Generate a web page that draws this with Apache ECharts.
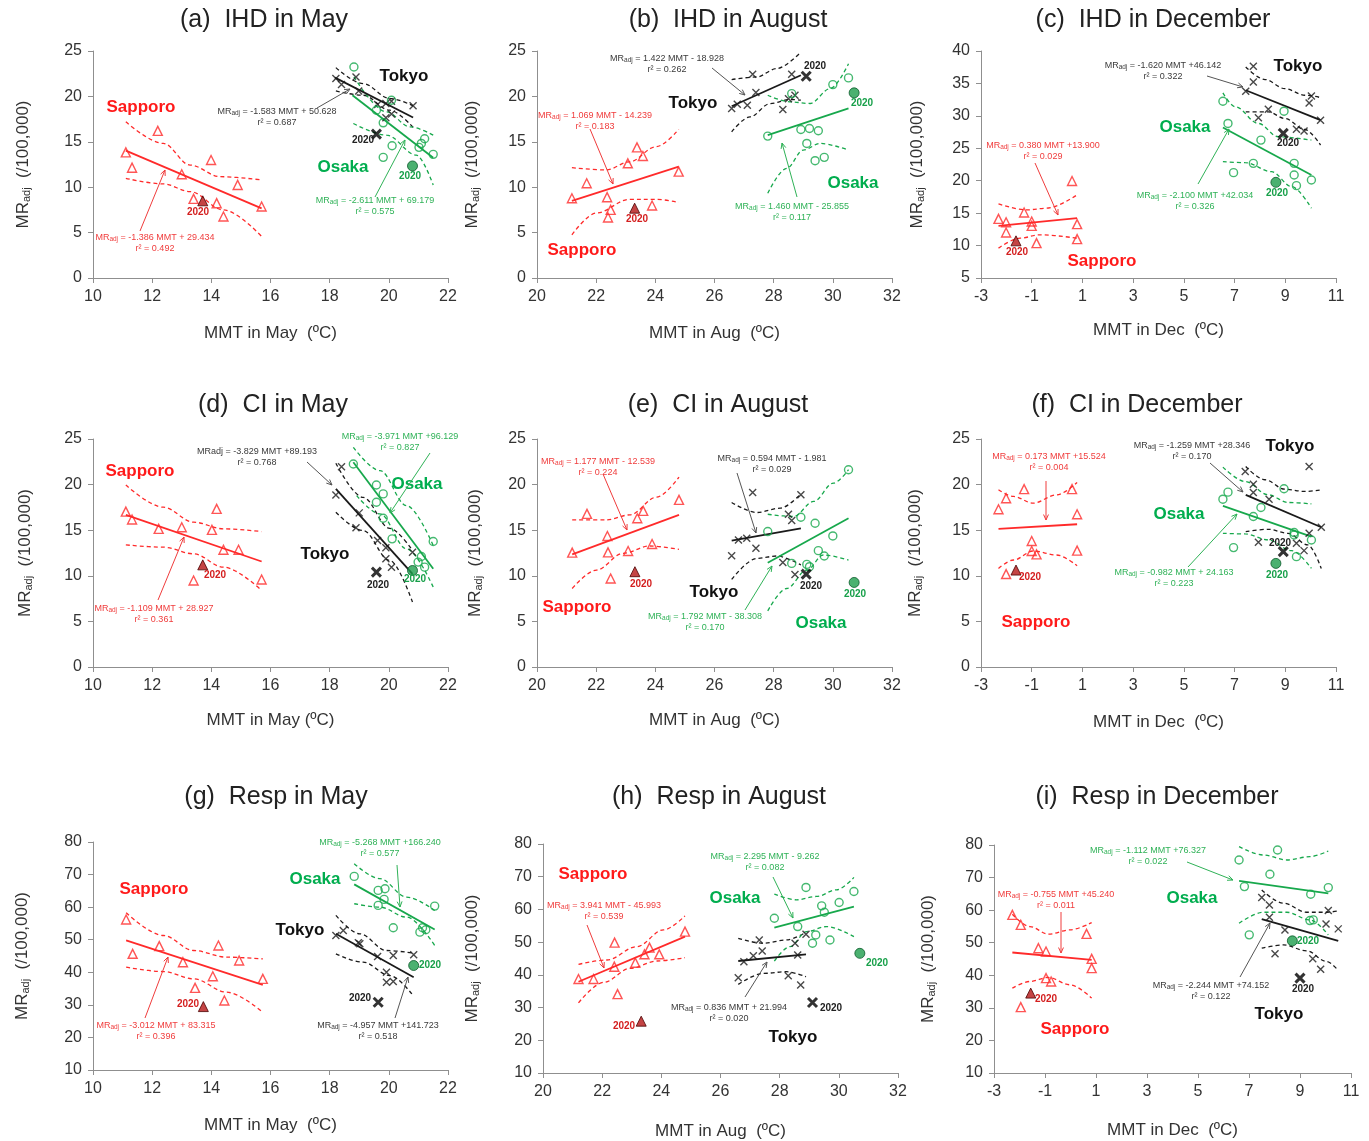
<!DOCTYPE html>
<html><head><meta charset="utf-8">
<script src="https://cdn.jsdelivr.net/npm/echarts@6/dist/echarts.min.js"></script>
<style>html,body{margin:0;padding:0;background:#fff}#c{width:1369px;height:1141px}</style>
</head><body><div id="c"></div>
<script>
// ---------- tick labels ----------
const xTicksMay = [10,12,14,16,18,20,22];
const xTicksAug = [20,22,24,26,28,30,32];
const xTicksDec = [-3,-1,1,3,5,7,9,11];
const yTicks25 = [0,5,10,15,20,25];
const yTicks40 = [5,10,15,20,25,30,35,40];
const yTicks80 = [10,20,30,40,50,60,70,80];

// ---------- (a) IHD in May ----------
const A_sap = [[11.11,13.84],[11.32,12.15],[12.19,16.2],[13.0,11.42],[13.40,8.71],[13.99,13.0],[14.18,8.24],[14.41,6.77],[14.89,10.25],[15.70,7.87]];
const A_sap20 = [[13.71,8.5]];
const A_sapFit = [[11.11,14.03],[15.70,7.67]];
const A_sapUp = [[11.11,17.2],[12.38,14.82],[13.28,12.44],[14.3,11.16],[15.7,10.8]];
const A_sapLo = [[11.11,10.98],[12.38,10.36],[13.28,9.52],[14.41,7.5],[15.7,4.57]];
const A_tok = [[18.21,21.96],[18.40,21.3],[18.89,22.14],[18.98,20.6],[19.62,19.1],[19.90,19.22],[20.09,19.47],[19.90,17.64],[20.09,18.05],[20.82,18.96]];
const A_tok20 = [[19.58,15.85]];
const A_tokFit = [[18.18,22.07],[20.82,17.68]];
const A_tokUp = [[18.21,23.17],[19.13,21.41],[20.03,19.77],[20.82,18.96]];
const A_tokLo = [[18.21,20.6],[19.13,20.13],[20.03,18.48],[20.82,16.58]];
const A_osa = [[18.82,23.24],[19.58,18.48],[19.81,17.09],[20.11,14.57],[19.81,13.29],[21.02,14.39],[21.10,14.82],[21.21,15.34],[21.50,13.62],[20.09,19.58]];
const A_osa20 = [[20.80,12.34]];
const A_osaFit = [[18.77,20.13],[21.5,13.25]];
const A_osaUp = [[18.82,22.15],[19.92,18.3],[20.71,16.65],[21.5,15.74]];
const A_osaLo = [[18.8,17.02],[19.92,15.74],[20.93,13.54],[21.5,10.25]];

// ---------- (b) IHD in August ----------
const B_sap = [[21.18,8.78],[21.68,10.43],[22.37,8.9],[22.49,7.5],[22.40,6.66],[23.07,12.63],[23.38,14.39],[23.58,13.43],[23.89,7.98],[24.79,11.71]];
const B_sap20 = [[23.30,7.69]];
const B_sapFit = [[21.18,8.49],[24.79,12.26]];
const B_sapUp = [[21.18,12.15],[22.34,11.9],[23.13,12.8],[24.03,14.46],[24.79,16.36]];
const B_sapLo = [[21.18,4.76],[22.0,7.15],[23.13,8.67],[24.03,8.67],[24.79,8.31]];
const B_tok = [[26.58,18.67],[26.77,19.14],[27.11,19.03],[27.40,20.42],[27.29,22.44],[28.31,18.56],[28.50,19.73],[28.61,22.44],[28.72,20.13]];
const B_tok20 = [[29.10,22.22]];
const B_tokFit = [[26.58,18.92],[28.92,22.33]];
const B_tokUp = [[26.58,21.85],[27.42,22.14],[28.1,23.06],[28.92,24.89]];
const B_tokLo = [[26.58,16.1],[27.2,17.75],[27.88,19.2],[28.55,19.66],[28.92,19.58]];
const B_osa = [[27.80,15.63],[28.61,20.31],[28.92,16.36],[29.21,16.47],[29.51,16.22],[29.12,14.82],[29.40,12.92],[29.71,13.29],[30.0,21.3],[30.53,22.04]];
const B_osa20 = [[30.72,20.39]];
const B_osaFit = [[27.8,15.74],[30.53,18.67]];
const B_osaUp = [[27.8,20.13],[28.55,19.4],[29.23,19.22],[29.91,20.86],[30.53,23.6]];
const B_osaLo = [[27.8,9.33],[28.44,12.08],[29.0,14.09],[29.57,14.82],[30.53,14.09]];

// ---------- (c) IHD in December ----------
const C_sap = [[-2.31,14.12],[-2.01,13.6],[-2.01,12.01],[-1.30,15.09],[-1.0,13.71],[-1.0,13.04],[-0.81,10.37],[0.59,19.96],[0.79,13.3],[0.79,10.99]];
const C_sap20 = [[-1.62,10.73]];
const C_sapFit = [[-2.31,13.04],[0.79,14.22]];
const C_sapUp = [[-2.31,16.42],[-1.2,15.5],[-0.42,15.76],[0.79,17.81]];
const C_sapLo = [[-2.31,9.61],[-1.46,11.14],[-0.68,11.66],[0.79,11.14]];
const C_tok = [[7.74,37.64],[7.74,35.23],[7.44,33.8],[8.33,31.03],[7.94,29.7],[9.94,32.0],[10.03,33.08],[10.39,29.34],[9.44,27.95],[9.74,27.65]];
const C_tok20 = [[8.92,27.29]];
const C_tokFit = [[7.44,33.95],[10.39,29.34]];
const C_tokUp = [[7.44,37.54],[8.2,35.6],[8.98,34.2],[9.77,33.18],[10.39,32.82]];
const C_tokLo = [[7.44,30.62],[8.33,30.62],[8.98,29.6],[9.77,27.9],[10.39,25.5]];
const C_osa = [[6.54,32.26],[6.74,28.83],[8.04,26.26],[8.95,30.72],[7.74,22.68],[6.96,21.24],[9.35,22.68],[9.35,20.88],[9.44,19.24],[10.03,20.11]];
const C_osa20 = [[8.63,19.75]];
const C_osaFit = [[6.54,28.21],[10.03,20.88]];
const C_osaUp = [[6.54,33.54],[7.03,31.39],[7.94,28.83],[8.72,26.78],[10.03,26.26]];
const C_osaLo = [[6.54,22.93],[7.42,22.78],[8.46,21.39],[9.25,19.09],[10.03,15.76]];

// ---------- (d) CI in May ----------
const D_sap = [[11.11,17.04],[11.32,16.17],[12.22,15.15],[13.0,15.33],[14.02,15.04],[14.18,17.34],[14.41,12.85],[14.92,12.85],[13.40,9.49],[15.70,9.6]];
const D_sap20 = [[13.71,11.2]];
const D_sapFit = [[11.11,16.68],[15.7,11.57]];
const D_sapUp = [[11.11,19.96],[12.38,17.52],[13.4,15.88],[14.41,15.15],[15.7,14.85]];
const D_sapLo = [[11.11,13.39],[12.38,13.14],[13.4,12.41],[14.41,10.95],[15.7,8.39]];
const D_tok = [[18.40,21.97],[18.21,18.87],[19.0,16.9],[18.89,15.26],[19.62,13.87],[19.90,13.07],[19.90,11.86],[20.09,10.95],[20.80,12.59]];
const D_tok20 = [[19.58,10.4]];
const D_tokFit = [[18.21,19.53],[20.8,10.22]];
const D_tokUp = [[18.21,22.34],[19.13,18.6],[20.03,15.2],[20.8,12.77]];
const D_tokLo = [[18.21,16.97],[19.13,14.96],[20.03,11.68],[20.8,7.12]];
const D_osa = [[18.80,22.26],[19.58,19.96],[19.81,18.98],[19.58,18.07],[19.81,16.31],[20.11,14.05],[21.10,12.12],[20.99,11.5],[21.21,10.95],[21.50,13.76]];
const D_osa20 = [[20.80,10.58]];
const D_osaFit = [[18.8,22.45],[21.5,10.77]];
const D_osaUp = [[18.8,24.09],[19.7,21.53],[20.6,17.7],[21.5,13.32]];
const D_osaLo = [[18.91,18.8],[19.7,16.79],[20.6,12.96],[21.5,8.76]];

// ---------- (e) CI in August ----------
const E_sap = [[21.19,12.54],[21.69,16.79],[22.38,14.37],[22.40,12.57],[22.49,9.71],[23.08,12.72],[23.39,16.31],[23.59,17.12],[23.89,13.49],[24.80,18.33]];
const E_sap20 = [[23.31,10.45]];
const E_sapFit = [[21.19,12.35],[24.8,16.68]];
const E_sapUp = [[21.19,16.13],[22.35,16.13],[23.14,16.68],[24.04,18.62],[24.8,20.82]];
const E_sapLo = [[21.19,8.61],[22.01,10.63],[22.91,12.46],[23.81,13.27],[24.8,12.9]];
const E_tok = [[26.58,12.21],[26.81,13.93],[27.09,14.11],[27.40,13.01],[27.29,19.13],[28.31,11.47],[28.50,16.75],[28.61,16.06],[28.92,18.88],[28.72,10.15]];
const E_tok20 = [[29.10,10.19]];
const E_tokFit = [[26.58,13.86],[28.92,15.21]];
const E_tokUp = [[26.58,18.04],[27.43,16.94],[28.22,17.41],[28.92,18.99]];
const E_tokLo = [[26.58,9.6],[27.43,11.91],[28.1,12.17],[28.92,11.18]];
const E_osa = [[27.80,14.85],[28.61,11.36],[28.92,16.42],[29.12,11.25],[29.21,11.0],[29.40,15.76],[29.51,12.76],[29.71,12.17],[30.0,14.37],[30.53,21.63]];
const E_osa20 = [[30.72,9.27]];
const E_osaFit = [[27.8,11.44],[30.53,16.31]];
const E_osaUp = [[27.8,16.75],[28.67,16.5],[29.35,18.15],[30.02,20.16],[30.53,21.63]];
const E_osaLo = [[27.8,6.16],[28.44,8.61],[29.12,10.63],[29.68,12.28],[30.53,11.73]];

// ---------- (f) CI in December ----------
const F_sap = [[-2.31,17.3],[-2.01,18.51],[-1.30,19.5],[0.59,19.5],[0.79,16.75],[-1.0,13.82],[-1.0,12.72],[-0.81,12.35],[0.79,12.76],[-2.01,10.19]];
const F_sap20 = [[-1.62,10.63]];
const F_sapFit = [[-2.31,15.14],[0.79,15.65]];
const F_sapUp = [[-2.31,19.43],[-1.72,18.7],[-0.94,17.96],[-0.02,18.88],[0.79,20.23]];
const F_sapLo = [[-2.31,10.81],[-1.72,11.73],[-0.94,12.72],[-0.02,12.28],[0.79,11.11]];
const F_tok = [[7.42,21.44],[7.74,20.05],[7.74,19.13],[8.36,18.4],[7.94,13.67],[9.94,21.99],[10.42,15.32],[9.44,13.56],[9.74,12.76],[9.94,14.66]];
const F_tok20 = [[8.92,12.65]];
const F_tokFit = [[7.44,18.88],[10.42,15.32]];
const F_tokUp = [[7.44,21.99],[8.2,20.53],[8.98,19.5],[9.77,19.25],[10.42,19.43]];
const F_tokLo = [[7.44,14.85],[8.33,15.1],[9.11,14.66],[9.89,13.38],[10.42,10.81]];
const F_osa = [[6.54,18.4],[6.74,19.17],[6.96,13.09],[8.04,17.49],[7.74,16.5],[8.95,19.54],[9.35,14.74],[9.35,14.48],[9.44,12.1],[10.03,13.93]];
const F_osa20 = [[8.63,11.36]];
const F_osaFit = [[6.54,17.67],[10.03,14.3]];
const F_osaUp = [[6.54,21.92],[7.42,20.34],[8.33,18.88],[9.11,18.04],[10.03,17.89]];
const F_osaLo = [[6.54,14.66],[7.42,14.59],[8.33,13.93],[9.25,12.76],[10.03,10.81]];

// ---------- (g) Resp in May ----------
const G_sap = [[11.12,56.22],[11.34,45.67],[12.24,48.02],[13.04,43.1],[13.45,35.21],[14.05,38.8],[14.24,48.23],[14.44,31.32],[14.94,43.62],[15.74,37.98]];
const G_sap20 = [[13.73,29.47]];
const G_sapFit = [[11.12,49.77],[15.74,36.13]];
const G_sapUp = [[11.12,58.27],[12.38,51.3],[13.4,46.69],[14.52,44.64],[15.74,44.13]];
const G_sapLo = [[11.12,41.57],[12.38,40.23],[13.4,37.98],[14.52,33.88],[15.74,27.73]];
const G_tok = [[18.21,51.3],[18.46,52.84],[18.97,49.05],[19.02,48.74],[19.62,44.85],[20.15,45.15],[20.84,45.36],[19.92,40.03],[19.92,36.95],[20.15,37.16]];
const G_tok20 = [[19.64,30.8]];
const G_tokFit = [[18.21,51.82],[20.84,38.49]];
const G_tokUp = [[18.21,57.45],[19.02,51.82],[19.92,46.69],[20.84,45.87]];
const G_tokLo = [[18.21,45.67],[19.13,43.1],[20.03,39.0],[20.84,32.65]];
const G_osa = [[18.83,69.44],[19.64,65.14],[19.87,65.65],[19.84,62.37],[19.64,60.53],[20.15,53.66],[21.05,52.33],[21.14,53.66],[21.25,53.05],[21.55,60.32]];
const G_osa20 = [[20.84,42.08]];
const G_osaFit = [[18.83,66.98],[21.55,53.15]];
const G_osaUp = [[18.83,73.34],[19.7,68.73],[20.6,63.09],[21.55,58.99]];
const G_osaLo = [[18.83,61.04],[19.7,60.01],[20.6,56.94],[21.55,48.23]];

// ---------- (h) Resp in August ----------
const H_sap = [[21.20,38.72],[21.71,38.72],[22.41,42.5],[22.42,49.85],[22.52,34.12],[23.12,43.72],[23.43,46.28],[23.60,48.32],[23.93,46.28],[24.80,53.23]];
const H_sap20 = [[23.32,25.84]];
const H_sapFit = [[21.2,37.9],[24.8,51.7]];
const H_sapUp = [[21.2,43.21],[22.16,44.54],[23.17,48.63],[24.07,53.74],[24.8,58.03]];
const H_sapLo = [[21.2,31.46],[22.05,37.69],[22.95,41.99],[23.85,44.23],[24.8,45.26]];
const H_tok = [[26.60,39.13],[26.79,44.03],[27.11,45.87],[27.31,50.67],[27.41,47.3],[28.29,39.74],[28.52,49.65],[28.61,46.07],[28.71,36.88],[28.89,52.41]];
const H_tok20 = [[29.11,31.56]];
const H_tokFit = [[26.6,44.23],[28.89,46.28]];
const H_tokUp = [[26.6,51.18],[27.45,49.65],[28.23,50.67],[28.89,53.02]];
const H_tokLo = [[26.6,37.08],[27.45,40.45],[28.23,40.96],[28.89,39.43]];
const H_osa = [[27.82,57.31],[28.61,54.76],[28.89,66.72],[29.22,52.2],[29.11,49.65],[29.42,61.1],[29.51,59.15],[29.70,50.67],[30.01,62.12],[30.51,65.49]];
const H_osa20 = [[30.71,46.58]];
const H_osaFit = [[27.82,54.45],[30.51,60.89]];
const H_osaUp = [[27.82,64.67],[28.57,62.93],[29.25,63.96],[29.92,66.0],[30.51,69.78]];
const H_osaLo = [[27.82,44.23],[28.35,48.63],[28.91,53.23],[29.58,54.76],[30.51,51.7]];

// ---------- (i) Resp in December ----------
const I_sap = [[-2.28,58.54],[-1.95,55.48],[-1.26,48.32],[-0.96,47.3],[0.63,52.72],[0.83,45.05],[0.83,42.19],[-0.96,39.13],[-0.76,38.1],[-1.95,30.23]];
const I_sap20 = [[-1.56,34.53]];
const I_sapFit = [[-2.28,47.0],[0.83,44.75]];
const I_sapUp = [[-2.28,58.75],[-1.59,54.96],[-0.87,52.61],[-0.02,53.94],[0.83,56.19]];
const I_sapLo = [[-2.28,36.06],[-1.59,38.1],[-0.87,39.33],[-0.02,37.08],[0.83,33.0]];
const I_tok = [[7.50,63.85],[7.80,61.61],[7.80,57.83],[8.41,53.94],[8.02,46.58],[9.50,45.05],[9.81,41.88],[10.11,59.87],[10.02,55.78],[10.50,54.25]];
const I_tok20 = [[9.0,39.13]];
const I_tokFit = [[7.5,57.21],[10.5,50.57]];
const I_tokUp = [[7.5,66.2],[8.35,62.12],[9.26,59.36],[10.05,59.36],[10.5,59.77]];
const I_tokLo = [[7.5,48.32],[8.35,49.34],[9.26,47.5],[10.05,44.23],[10.5,41.47]];
const I_osa = [[6.61,75.4],[6.82,67.23],[7.01,52.41],[7.82,71.01],[8.12,78.47],[9.42,64.88],[9.39,56.8],[9.52,57.01],[10.11,66.92]];
const I_osa20 = [[8.70,50.57]];
const I_osaFit = [[6.61,68.96],[10.11,65.18]];
const I_osaUp = [[6.61,79.49],[7.56,76.93],[8.48,75.4],[9.39,76.42],[10.11,78.16]];
const I_osaLo = [[6.61,55.99],[7.56,59.36],[8.48,59.36],[9.39,57.01],[10.11,52.41]];

// ---------- styling / layout ----------
const FONT = '"Liberation Sans", Arial, sans-serif';
const COL = {S:'#ff2a2a', T:'#1a1a1a', O:'#17a84c'};
const TXT = {S:'#f03c3c', T:'#3a3a3a', O:'#2fb257'};
const CITY = {S:'#ff1a1a', T:'#111111', O:'#00ad4e'};
const YR = {S:'#d41f1f', T:'#222222', O:'#18a04a'};
const CITYNAME = {S:'Sapporo', T:'Tokyo', O:'Osaka'};

const PANELS = [
 {title:'(a)  IHD in May', tp:[264,20], grid:[93,51,355,227], xt:xTicksMay, yt:yTicks25, xName:'MMT in May  (ºC)', xGap:47, yGap:61,
  d:{S:[A_sap,A_sap20,A_sapFit,A_sapUp,A_sapLo],T:[A_tok,A_tok20,A_tokFit,A_tokUp,A_tokLo],O:[A_osa,A_osa20,A_osaFit,A_osaUp,A_osaLo]},
  city:{S:[141,107],T:[404,76],O:[343,167]},
  eq:{S:[155,243,'-1.386 MMT + 29.434','0.492'],T:[277,117,'-1.583 MMT + 50.628','0.687'],O:[375,206,'-2.611 MMT + 69.179','0.575']},
  arr:{S:[140,231,165,170],T:[317,108,350,89],O:[375,197,405,140]},
  yr:{S:[198,212],T:[363,140],O:[410,176]}},
 {title:'(b)  IHD in August', tp:[728,20], grid:[537,51,355,227], xt:xTicksAug, yt:yTicks25, xName:'MMT in Aug  (ºC)', xGap:47, yGap:56,
  d:{S:[B_sap,B_sap20,B_sapFit,B_sapUp,B_sapLo],T:[B_tok,B_tok20,B_tokFit,B_tokUp,B_tokLo],O:[B_osa,B_osa20,B_osaFit,B_osaUp,B_osaLo]},
  city:{S:[582,250],T:[693,103],O:[853,183]},
  eq:{S:[595,121,'1.069 MMT - 14.239','0.183'],T:[667,64,'1.422 MMT - 18.928','0.262'],O:[792,212,'1.460 MMT - 25.855','0.117']},
  arr:{S:[590,129,613,184],T:[712,68,745,95],O:[797,197,782,143]},
  yr:{S:[637,219],T:[815,66],O:[862,103]}},
 {title:'(c)  IHD in December', tp:[1153,20], grid:[981,51,355,227], xt:xTicksDec, yt:yTicks40, xName:'MMT in Dec  (ºC)', xGap:44, yGap:55,
  d:{S:[C_sap,C_sap20,C_sapFit,C_sapUp,C_sapLo],T:[C_tok,C_tok20,C_tokFit,C_tokUp,C_tokLo],O:[C_osa,C_osa20,C_osaFit,C_osaUp,C_osaLo]},
  city:{S:[1102,261],T:[1298,66],O:[1185,127]},
  eq:{S:[1043,151,'0.380 MMT +13.900','0.029'],T:[1163,71,'-1.620 MMT +46.142','0.322'],O:[1195,201,'-2.100 MMT +42.034','0.326']},
  arr:{S:[1035,163,1058,215],T:[1207,76,1243,87],O:[1198,184,1229,129]},
  yr:{S:[1017,252],T:[1288,143],O:[1277,193]}},
 {title:'(d)  CI in May', tp:[273,405], grid:[93,439,355,228], xt:xTicksMay, yt:yTicks25, xName:'MMT in May (ºC)', xGap:45, yGap:59,
  d:{S:[D_sap,D_sap20,D_sapFit,D_sapUp,D_sapLo],T:[D_tok,D_tok20,D_tokFit,D_tokUp,D_tokLo],O:[D_osa,D_osa20,D_osaFit,D_osaUp,D_osaLo]},
  city:{S:[140,471],T:[325,554],O:[417,484]},
  eq:{S:[154,614,'-1.109 MMT + 28.927','0.361'],T:[257,457,'-3.829 MMT +89.193','0.768',true],O:[400,442,'-3.971 MMT +96.129','0.827']},
  arr:{S:[158,600,184,537],T:[307,462,332,485],O:[430,453,390,513]},
  yr:{S:[215,575],T:[378,585],O:[415,579]}},
 {title:'(e)  CI in August', tp:[718,405], grid:[537,439,355,228], xt:xTicksAug, yt:yTicks25, xName:'MMT in Aug  (ºC)', xGap:45, yGap:53,
  d:{S:[E_sap,E_sap20,E_sapFit,E_sapUp,E_sapLo],T:[E_tok,E_tok20,E_tokFit,E_tokUp,E_tokLo],O:[E_osa,E_osa20,E_osaFit,E_osaUp,E_osaLo]},
  city:{S:[577,607],T:[714,592],O:[821,623]},
  eq:{S:[598,467,'1.177 MMT - 12.539','0.224'],T:[772,464,'0.594 MMT - 1.981','0.029'],O:[705,622,'1.792 MMT - 38.308','0.170']},
  arr:{S:[603,474,627,530],T:[737,473,756,533],O:[745,610,772,566]},
  yr:{S:[641,584],T:[811,586],O:[855,594]}},
 {title:'(f)  CI in December', tp:[1137,405], grid:[981,439,355,228], xt:xTicksDec, yt:yTicks25, xName:'MMT in Dec  (ºC)', xGap:47, yGap:57,
  d:{S:[F_sap,F_sap20,F_sapFit,F_sapUp,F_sapLo],T:[F_tok,F_tok20,F_tokFit,F_tokUp,F_tokLo],O:[F_osa,F_osa20,F_osaFit,F_osaUp,F_osaLo]},
  city:{S:[1036,622],T:[1290,446],O:[1179,514]},
  eq:{S:[1049,462,'0.173 MMT +15.524','0.004'],T:[1192,451,'-1.259 MMT +28.346','0.170'],O:[1174,578,'-0.982 MMT + 24.163','0.223']},
  arr:{S:[1046,481,1046,520],T:[1210,463,1243,492],O:[1188,567,1237,514]},
  yr:{S:[1030,577],T:[1280,543],O:[1277,575]}},
 {title:'(g)  Resp in May', tp:[276,797], grid:[93,842,355,228], xt:xTicksMay, yt:yTicks80, xName:'MMT in May  (ºC)', xGap:47, yGap:62,
  d:{S:[G_sap,G_sap20,G_sapFit,G_sapUp,G_sapLo],T:[G_tok,G_tok20,G_tokFit,G_tokUp,G_tokLo],O:[G_osa,G_osa20,G_osaFit,G_osaUp,G_osaLo]},
  city:{S:[154,889],T:[300,930],O:[315,879]},
  eq:{S:[156,1031,'-3.012 MMT + 83.315','0.396'],T:[378,1031,'-4.957 MMT +141.723','0.518'],O:[380,848,'-5.268 MMT +166.240','0.577']},
  arr:{S:[145,1018,168,957],T:[395,1018,408,977],O:[397,865,400,907]},
  yr:{S:[188,1004],T:[360,998],O:[430,965]}},
 {title:'(h)  Resp in August', tp:[719,797], grid:[543,844,355,229], xt:xTicksAug, yt:yTicks80, xName:'MMT in Aug  (ºC)', xGap:50, yGap:62,
  d:{S:[H_sap,H_sap20,H_sapFit,H_sapUp,H_sapLo],T:[H_tok,H_tok20,H_tokFit,H_tokUp,H_tokLo],O:[H_osa,H_osa20,H_osaFit,H_osaUp,H_osaLo]},
  city:{S:[593,874],T:[793,1037],O:[735,898]},
  eq:{S:[604,911,'3.941 MMT - 45.993','0.539'],T:[729,1013,'0.836 MMT + 21.994','0.020'],O:[765,862,'2.295 MMT - 9.262','0.082']},
  arr:{S:[587,925,604,968],T:[745,997,767,962],O:[773,877,793,918]},
  yr:{S:[624,1026],T:[831,1008],O:[877,963]}},
 {title:'(i)  Resp in December', tp:[1157,797], grid:[994,845,357,228], xt:xTicksDec, yt:yTicks80, xName:'MMT in Dec  (ºC)', xGap:49, yGap:57,
  d:{S:[I_sap,I_sap20,I_sapFit,I_sapUp,I_sapLo],T:[I_tok,I_tok20,I_tokFit,I_tokUp,I_tokLo],O:[I_osa,I_osa20,I_osaFit,I_osaUp,I_osaLo]},
  city:{S:[1075,1029],T:[1279,1014],O:[1192,898]},
  eq:{S:[1056,900,'-0.755 MMT +45.240','0.011'],T:[1211,991,'-2.244 MMT +74.152','0.122'],O:[1148,856,'-1.112 MMT +76.327','0.022']},
  arr:{S:[1061,912,1061,953],T:[1240,977,1270,923],O:[1187,862,1233,880]},
  yr:{S:[1046,999],T:[1303,989],O:[1308,941]}}
];

const CROSS = 'path://M0,0L10,10M10,0L0,10';
const SYM = {
  S:{symbol:'triangle', symbolSize:9, itemStyle:{color:'rgba(255,255,255,0)', borderColor:COL.S, borderWidth:1.4}},
  T:{symbol:CROSS, symbolSize:7, itemStyle:{color:'rgba(0,0,0,0)', borderColor:COL.T, borderWidth:1.4}},
  O:{symbol:'circle', symbolSize:8, itemStyle:{color:'rgba(255,255,255,0)', borderColor:COL.O, borderWidth:1.4}}
};
const SYM20 = {
  S:{symbol:'triangle', symbolSize:10, itemStyle:{color:'#b51515', borderColor:'#4a0000', borderWidth:1}},
  T:{symbol:CROSS, symbolSize:9, itemStyle:{color:'rgba(0,0,0,0)', borderColor:'#000', borderWidth:3}},
  O:{symbol:'circle', symbolSize:10, itemStyle:{color:'#1e9e4c', borderColor:'#0b5a2a', borderWidth:1}}
};

const grids=[], xAxes=[], yAxes=[], series=[], graphics=[];
PANELS.forEach((p,i)=>{
  grids.push({left:p.grid[0], top:p.grid[1], width:p.grid[2], height:p.grid[3], containLabel:false, outerBoundsMode:'none'});
  const axLine = {show:true, onZero:false, lineStyle:{color:'#8f8f8f', width:1}};
  const axTick = {show:true, inside:false, length:5, lineStyle:{color:'#8f8f8f'}};
  xAxes.push({type:'value', gridIndex:i, min:p.xt[0], max:p.xt[p.xt.length-1],
    axisLine:axLine, axisTick:Object.assign({customValues:p.xt}, axTick), splitLine:{show:false},
    axisLabel:{customValues:p.xt, fontSize:16, color:'#333', margin:11, fontFamily:FONT},
    name:p.xName, nameLocation:'middle', nameGap:p.xGap, nameTextStyle:{fontSize:17, color:'#333', fontFamily:FONT}});
  yAxes.push({type:'value', gridIndex:i, min:p.yt[0], max:p.yt[p.yt.length-1],
    axisLine:axLine, axisTick:Object.assign({customValues:p.yt}, axTick), splitLine:{show:false},
    axisLabel:{customValues:p.yt, fontSize:16, color:'#333', margin:11, fontFamily:FONT},
    name:'MR{s|adj}  (/100,000)', nameLocation:'middle', nameGap:p.yGap,
    nameTextStyle:{fontSize:17, color:'#333', fontFamily:FONT, rich:{s:{fontSize:11, color:'#333', fontFamily:FONT, verticalAlign:'bottom', padding:[6,0,0,0]}}}});
  ['S','T','O'].forEach(k=>{
    const [pts,p20,fit,up,lo] = p.d[k];
    const base = {xAxisIndex:i, yAxisIndex:i, silent:true, animation:false};
    [up,lo].forEach(b=>series.push(Object.assign({type:'line', data:b, symbol:'none', smooth:0.35, smoothMonotone:'x',
      lineStyle:{color:COL[k], width:1.3, type:[4,3]}, z:2}, base)));
    series.push(Object.assign({type:'line', data:fit, symbol:'none', lineStyle:{color:COL[k], width:1.8}, z:3}, base));
    series.push(Object.assign({type:'scatter', data:pts, z:4}, SYM[k], base));
    series.push(Object.assign({type:'scatter', data:p20, z:5}, SYM20[k], base));
    // annotations
    const c = p.city[k];
    graphics.push({type:'text', x:c[0], y:c[1], z:100, style:{text:CITYNAME[k], fill:CITY[k], font:'bold 17px '+FONT, align:'center', verticalAlign:'middle'}});
    const e = p.eq[k];
    const txt = e[4] ? `{m|MRadj = ${e[2]}}\n{m|r² = ${e[3]}}` : `{m|MR}{s|adj}{m| = ${e[2]}}\n{m|r² = ${e[3]}}`;
    graphics.push({type:'text', x:e[0], y:e[1], z:100, style:{text:txt, align:'center', verticalAlign:'middle',
      rich:{m:{fontSize:9, fontFamily:FONT, fill:TXT[k], lineHeight:11, align:'center'},
            s:{fontSize:6.5, fontFamily:FONT, fill:TXT[k], lineHeight:11, align:'center', verticalAlign:'bottom'}}}});
    const a = p.arr[k];
    const ang = Math.atan2(a[3]-a[1], a[2]-a[0]), L=6, w=0.42;
    const acol = k==='T' ? '#555' : TXT[k];
    graphics.push({type:'line', z:100, shape:{x1:a[0],y1:a[1],x2:a[2],y2:a[3]}, style:{stroke:acol, lineWidth:1}});
    graphics.push({type:'polyline', z:100, shape:{points:[[a[2]-L*Math.cos(ang-w), a[3]-L*Math.sin(ang-w)],[a[2],a[3]],[a[2]-L*Math.cos(ang+w), a[3]-L*Math.sin(ang+w)]]}, style:{stroke:acol, lineWidth:1, fill:null}});
    const y = p.yr[k];
    graphics.push({type:'text', x:y[0], y:y[1], z:100, style:{text:'2020', fill:YR[k], font:'bold 10px '+FONT, align:'center', verticalAlign:'middle'}});
  });
  graphics.push({type:'text', x:p.tp[0], y:p.tp[1], z:100, style:{text:p.title, fill:'#222', font:'25px '+FONT, align:'center', verticalAlign:'middle'}});
});

const chart = echarts.init(document.getElementById('c'), null, {renderer:'canvas'});
chart.setOption({backgroundColor:'#fff', animation:false, grid:grids, xAxis:xAxes, yAxis:yAxes, series:series, graphic:graphics});
</script></body></html>
